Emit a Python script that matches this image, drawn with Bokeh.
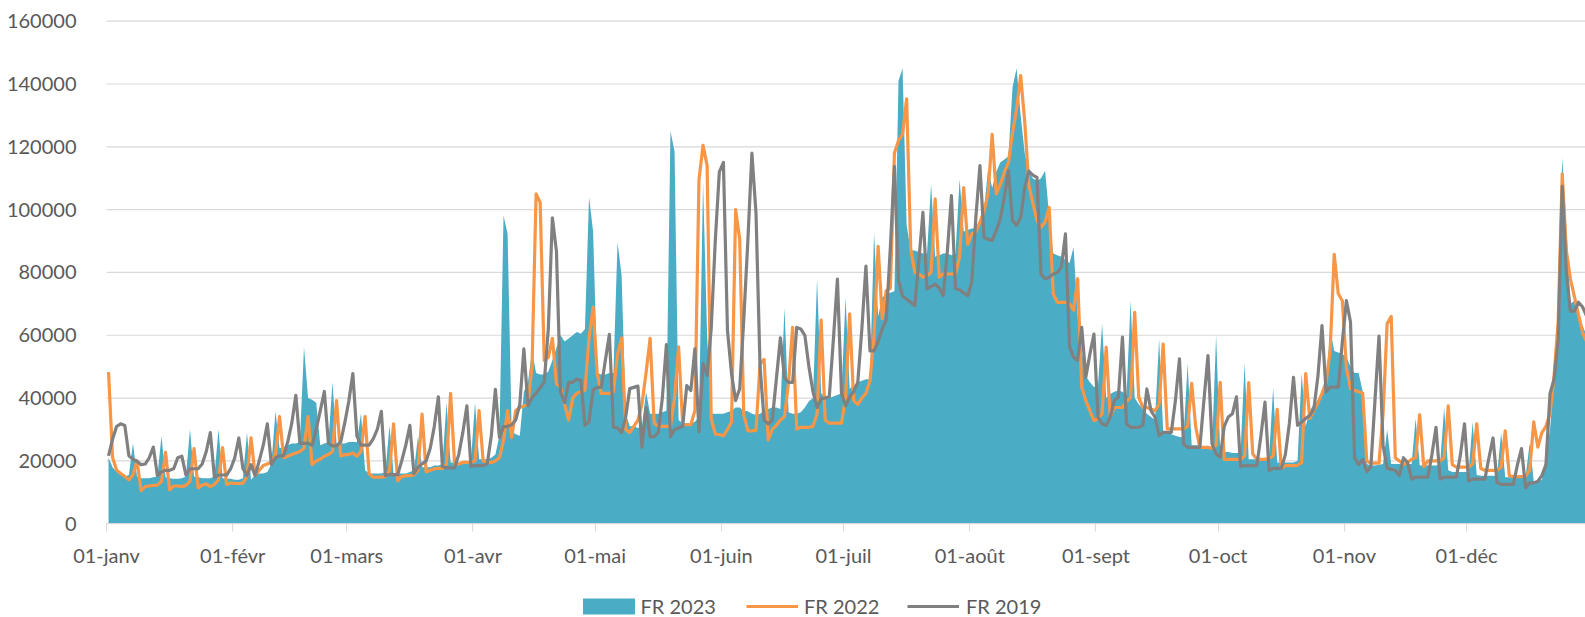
from bokeh.plotting import figure
from bokeh.models import Range1d, FixedTicker, Legend, LegendItem, ColumnDataSource
from bokeh.embed import file_html
from bokeh.resources import INLINE

# month start day-of-year and labels
month_starts = [0, 31, 59, 90, 120, 151, 181, 212, 243, 273, 304, 334]
month_labels = ["01-janv", "01-févr", "01-mars", "01-avr", "01-mai", "01-juin",
                "01-juil", "01-août", "01-sept", "01-oct", "01-nov", "01-déc"]
y_ticks = [0, 20000, 40000, 60000, 80000, 100000, 120000, 140000, 160000]
y_tick_labels = ["0", "20000", "40000", "60000", "80000", "100000", "120000", "140000", "160000"]
series_names = ["FR 2023", "FR 2022", "FR 2019"]

fr2023 = [
    21000, 18000, 16500, 15500, 15000, 15500, 25600,
    15000, 14500, 14500, 14500, 14800, 15000, 27900,
    14800, 14500, 14300, 14300, 14500, 15000, 30100,
    15000, 14800, 14500, 14500, 14500, 15000, 30100,
    14500, 14300, 14300, 14000, 14000, 14500, 29000,
    14000, 15500, 16000, 16000, 16500, 19000, 35800,
    24000, 24500, 25000, 25500, 25500, 26000, 56300,
    40000, 39500, 38500, 25000, 25500, 26000, 45000,
    25500, 25500, 25500, 26000, 26000, 26000, 35200,
    17000, 16000, 16000, 16000, 16000, 16500, 31300,
    16000, 16000, 16000, 16000, 16500, 17000, 27800,
    18000, 18000, 18000, 18500, 18500, 19000, 38600,
    19500, 19500, 19500, 19500, 20000, 20000, 38600,
    20500, 20500, 20500, 21000, 22000, 28000, 98100,
    92300, 29500, 28500, 28000, 42000, 45000, 55000,
    48000, 47500, 47500, 48500, 52000, 56000, 60000,
    58000, 59000, 60000, 61000, 60500, 62000, 104000,
    93000, 48000, 47500, 47500, 48000, 48000, 89600,
    79000, 35000, 31000, 31000, 30500, 31000, 42000,
    35000, 35000, 35000, 35500, 36000, 125000, 118500,
    33000, 32000, 32000, 32000, 32500, 34000, 108600,
    60000, 35000, 35000, 35000, 35000, 35500, 36000,
    37000, 37000, 36000, 35800, 35000, 34700, 35000,
    36000, 36500, 37000, 37000, 36500, 68800, 35500,
    35000, 35000, 35500, 37000, 39000, 40000, 77900,
    41500, 40500, 40000, 40500, 41000, 41500, 72200,
    43000, 44000, 45000, 45500, 46000, 46000, 92700,
    66000, 72000, 73000, 73500, 74000, 141000, 145000,
    95000, 87000, 87000, 86500, 86000, 86000, 108200,
    85000, 85500, 86000, 86000, 85500, 86000, 109700,
    93000, 93500, 94000, 94000, 96000, 100000, 113000,
    107000, 112000, 115000, 116000, 117000, 139000, 145000,
    130000, 118000, 112000, 110000, 109000, 110000, 112400,
    98000, 86000, 85500, 85000, 84000, 83000, 88000,
    66000, 55000, 47000, 45000, 43500, 44000, 63600,
    40000, 41300, 42000, 42400, 42000, 41000, 71000,
    40000, 38000, 36500, 35000, 34000, 33000, 58800,
    29600, 29000, 28500, 28000, 27600, 27500, 50900,
    25000, 25000, 24800, 24500, 24300, 24000, 60000,
    23000, 22800, 22800, 22500, 22500, 22500, 51200,
    20500, 20500, 20500, 20500, 20500, 21000, 43200,
    19500, 19500, 19500, 19500, 19500, 20000, 47800,
    31000, 36000, 38000, 39200, 41500, 44000, 62000,
    55000, 54500, 54000, 53000, 50000, 48000, 48000,
    42000, 19000, 18500, 18500, 18800, 19000, 30000,
    19000, 19000, 19000, 19000, 19000, 19000, 33500,
    18500, 18500, 18500, 18500, 18500, 18800, 37000,
    17000, 16500, 16500, 16500, 16500, 16500, 32400,
    15500, 15300, 15300, 15300, 15300, 15300, 29000,
    14800, 14800, 14800, 14800, 14800, 14800, 25600,
    13600, 13600, 14000, 21000, 30000, 46000, 68000,
    116500, 95000, 70000, 71000, 68000, 63000, 60000,
    58000,
]

fr2022 = [
    48300, 21000, 17000, 16000, 15000, 14000, 15500,
    20000, 10500, 11800, 12000, 12200, 12300, 13500,
    22700, 10800, 12000, 12000, 11800, 12200, 13500,
    23900, 11400, 12300, 12700, 11800, 12500, 14000,
    24200, 12500, 13000, 12800, 12800, 12900, 15000,
    27300, 15300, 17000, 18500, 19000, 19800, 22000,
    34100, 21000, 21500, 22000, 22500, 23000, 24000,
    34100, 18800, 20000, 20500, 21500, 22000, 23000,
    39200, 21600, 22000, 22000, 22500, 21500, 23000,
    34100, 15900, 14800, 14800, 14800, 15000, 17000,
    31800, 13600, 15000, 15300, 15300, 15500, 17000,
    34900, 16500, 17000, 17500, 17600, 17600, 19000,
    41500, 18800, 19000, 19500, 19500, 19500, 20000,
    36000, 20000, 19500, 19500, 20000, 21000, 26500,
    36000, 27500, 36000, 37000, 37500, 38000, 50000,
    105000, 102300, 52000, 53000, 59000, 44500, 43500,
    38000, 33000, 40000, 41500, 42000, 42500, 59000,
    69000, 48000, 41500, 41500, 41500, 42000, 54000,
    59100, 30000, 29000, 31000, 33000, 38000, 48000,
    59000, 32000, 31000, 31000, 31000, 31000, 40000,
    56300, 31500, 31500, 31500, 36000, 109500, 120500,
    114000, 33500, 28500, 28400, 28000, 30000, 32400,
    100000, 90600, 34800, 29600, 29500, 29800, 51000,
    52300, 26700, 30000, 31300, 33000, 34100, 45000,
    62500, 30100, 30700, 30700, 30700, 31000, 35000,
    64800, 33000, 32000, 32000, 32000, 32000, 40000,
    66800, 39200, 38000, 40000, 41500, 45500, 60000,
    88300, 65300, 74200, 75000, 118000, 122000, 124000,
    135300, 87500, 80000, 79500, 78500, 79000, 80000,
    103400, 78500, 79500, 79500, 79500, 79500, 85000,
    107000, 89000, 92300, 93000, 96000, 99500, 105000,
    124000, 105000, 108000, 112000, 115000, 124500, 132000,
    142700, 128000, 108000, 102000, 96500, 94400, 96000,
    100700, 73200, 70500, 70500, 70500, 70000, 68000,
    78000, 43500, 39200, 36000, 32800, 33500, 35000,
    56200, 33900, 37000, 37000, 37000, 39000, 40000,
    67300, 40300, 37000, 37000, 36500, 36000, 38000,
    57200, 30200, 30200, 30200, 30200, 30200, 31000,
    44700, 30700, 24300, 24300, 24300, 24000, 25000,
    45000, 20500, 20500, 20500, 20500, 20500, 21500,
    44900, 22200, 20500, 20500, 20500, 20800, 21500,
    36400, 17600, 18500, 18500, 18500, 18600, 19500,
    47800, 33500, 36000, 38500, 41500, 45000, 55000,
    85800, 73200, 71000, 49500, 43000, 42500, 42000,
    41500, 19900, 19300, 19300, 19300, 35000, 63700,
    66000, 21000, 20000, 18800, 19500, 20500, 21000,
    34700, 18200, 20000, 20000, 20000, 20000, 21000,
    37500, 18800, 18000, 18000, 18000, 18000, 19000,
    31800, 17600, 17000, 17000, 17000, 17000, 18000,
    29600, 15300, 15000, 15000, 15000, 15200, 17000,
    32400, 24400, 29000, 31000, 35000, 47200, 64200,
    111400, 87000, 78000, 72200, 66500, 60800, 58000,
    56000,
]

fr2019 = [
    21600, 27000, 31000, 31800, 31300, 21600, 20500,
    19900, 18800, 19000, 21000, 24400, 15300, 16500,
    17000, 17000, 17500, 21000, 21500, 15500, 17500,
    17500, 17500, 19000, 23000, 29000, 14800, 15500,
    15500, 15500, 17500, 21000, 27300, 17600, 15300,
    18800, 15300, 20000, 25000, 31800, 18800, 21000,
    21600, 21600, 26000, 32000, 40900, 25600, 25600,
    25600, 25000, 30000, 36000, 42100, 25600, 24800,
    24800, 26000, 32000, 39000, 47800, 27900, 25000,
    25000, 25000, 27000, 30000, 35800, 15300, 15600,
    15600, 15600, 20000, 25000, 31300, 15900, 18000,
    19000, 20000, 24000, 31000, 40400, 18200, 17800,
    17800, 17800, 22000, 29000, 37500, 18200, 18500,
    18500, 18500, 19000, 28000, 42800, 27400, 30900,
    31000, 31500, 33000, 38000, 55700, 37600, 40200,
    41500, 43400, 45000, 62000, 97400, 86700, 42000,
    38500, 45000, 45000, 46100, 45500, 31300, 32500,
    42600, 43400, 43400, 52000, 60300, 30700, 30500,
    29000, 34000, 43000, 43400, 43800, 24400, 37000,
    27700, 27700, 29000, 40000, 57000, 27700, 30000,
    30500, 31000, 44000, 42400, 55700, 29300, 51000,
    47200, 62000, 90000, 112000, 115000, 61500, 47700,
    39200, 43000, 65000, 90000, 118000, 99000, 50000,
    33000, 31800, 33000, 46000, 59200, 46500, 45000,
    45000, 62500, 62000, 60000, 50000, 42000, 37000,
    39800, 40000, 40400, 58500, 77900, 41500, 37500,
    40400, 42100, 45000, 62000, 82000, 55000, 55000,
    58000, 62000, 65000, 88000, 113800, 77500, 72500,
    71500, 70500, 69400, 83800, 99100, 74800, 75500,
    76300, 75000, 72600, 86900, 104500, 74800, 74500,
    73500, 72600, 77000, 97600, 114000, 91200, 90500,
    90200, 93300, 97000, 104000, 112400, 96500, 95000,
    97500, 107000, 112300, 111000, 110300, 79500, 78000,
    78500, 79500, 80000, 81700, 92300, 56200, 53000,
    52000, 62500, 46600, 54000, 60400, 33900, 31800,
    31300, 33900, 39200, 40300, 59400, 31800, 30700,
    30700, 30700, 31300, 42900, 36000, 33900, 28000,
    29100, 29100, 29100, 39200, 52500, 25400, 24300,
    24300, 24300, 24300, 39200, 53500, 25400, 22200,
    21200, 31000, 34000, 35000, 40400, 18200, 18500,
    18500, 18500, 18500, 28000, 38700, 17000, 17600,
    17600, 17600, 22000, 32000, 46600, 31300, 32400,
    33500, 34500, 36400, 47000, 63100, 42000, 43500,
    43500, 43500, 58000, 71000, 64200, 21000, 18800,
    20500, 16500, 18200, 39000, 59700, 25000, 17600,
    17300, 17000, 15300, 21000, 19500, 14200, 14800,
    14800, 14800, 14800, 22000, 30700, 14200, 14800,
    14800, 14800, 14800, 22000, 31800, 13600, 14200,
    14200, 14200, 14200, 21000, 27300, 13100, 12500,
    12500, 12500, 12500, 18800, 23900, 11400, 13000,
    13000, 13500, 15300, 18800, 41500, 46000, 58500,
    107500, 80200, 67700, 67700, 70500, 69000, 66000,
    64000,
]

n = min(len(fr2023), len(fr2022), len(fr2019))
day_pos = [d + 0.5 for d in range(n)]  # each point sits in the middle of its day slot
src = ColumnDataSource(dict(x=day_pos, y23=fr2023[:n], y22=fr2022[:n], y19=fr2019[:n]))

FONT = "Lato"
TXT = "#595959"
GRID = "#D9D9D9"

# The figure fills the window; the frame covers the whole canvas and the axes are
# drawn at fixed data locations so that labels and legend can sit anywhere.
W, H = 1585, 617
X0 = 106.0          # canvas x of 1 January
Y0 = 523.2          # canvas y of value 0
YTOP = 20.7         # canvas y of value 160000
px_per_day = 4.072
units_per_px = 160000 / (Y0 - YTOP)
x_start = -X0 / px_per_day
x_end = (W - X0) / px_per_day
y_end = 160000 + YTOP * units_per_px
y_start = -(H - Y0) * units_per_px

p = figure(width=W, height=H, output_backend="svg", toolbar_location=None,
           x_range=Range1d(x_start, x_end), y_range=Range1d(y_start, y_end),
           min_border=0, min_border_left=0, min_border_right=0,
           min_border_top=0, min_border_bottom=0)
p.outline_line_color = None
p.background_fill_color = "white"
p.border_fill_color = "white"
p.xgrid.visible = False
p.ygrid.visible = False

# horizontal gridlines, behind the series, starting at 1 January
p.segment(x0=0, x1=x_end, y0=y_ticks, y1=y_ticks, line_color=GRID, line_width=1.2)

r23 = p.varea(x="x", y1=0, y2="y23", source=src, fill_color="#4BACC6")
r22 = p.line("x", "y22", source=src, line_color="#F79646", line_width=3.2, line_join="round")
r19 = p.line("x", "y19", source=src, line_color="#808080", line_width=3.2, line_join="round")

# x axis drawn at value 0
xa = p.xaxis[0]
xa.fixed_location = 0
xa.bounds = (0, x_end)
xa.ticker = FixedTicker(ticks=month_starts)
xa.major_label_overrides = {m: lab for m, lab in zip(month_starts, month_labels)}
xa.axis_line_color = GRID
xa.axis_line_width = 1.2
xa.major_tick_line_color = GRID
xa.major_tick_out = 8
xa.major_tick_in = 0
xa.minor_tick_line_color = None
xa.major_label_standoff = 11
xa.major_label_text_font = FONT
xa.major_label_text_font_size = "20px"
xa.major_label_text_color = TXT

# y axis drawn at 1 January
ya = p.yaxis[0]
ya.fixed_location = 0
ya.bounds = (0, 160000)
ya.ticker = FixedTicker(ticks=y_ticks)
ya.major_label_overrides = {t: lab for t, lab in zip(y_ticks, y_tick_labels)}
ya.axis_line_color = None
ya.major_tick_line_color = None
ya.minor_tick_line_color = None
ya.major_label_standoff = 24
ya.major_label_text_font = FONT
ya.major_label_text_font_size = "20px"
ya.major_label_text_color = TXT

def make_legend(item, x, gw, gh, standoff):
    lg = Legend(items=[item], orientation="horizontal", location=(x, -1),
                glyph_width=gw, glyph_height=gh, label_standoff=standoff,
                padding=0, margin=0, spacing=0, border_line_color=None,
                background_fill_alpha=0, label_text_font=FONT,
                label_text_font_size="20px", label_text_color=TXT,
                label_height=20)
    p.add_layout(lg, "center")

make_legend(LegendItem(label=series_names[0], renderers=[r23]), 575.5, 65, 20, 0)
make_legend(LegendItem(label=series_names[1], renderers=[r22]), 746, 52, 20, 6)
make_legend(LegendItem(label=series_names[2], renderers=[r19]), 907, 52, 20, 7)

open("out.html", "w").write(file_html(p, INLINE))
